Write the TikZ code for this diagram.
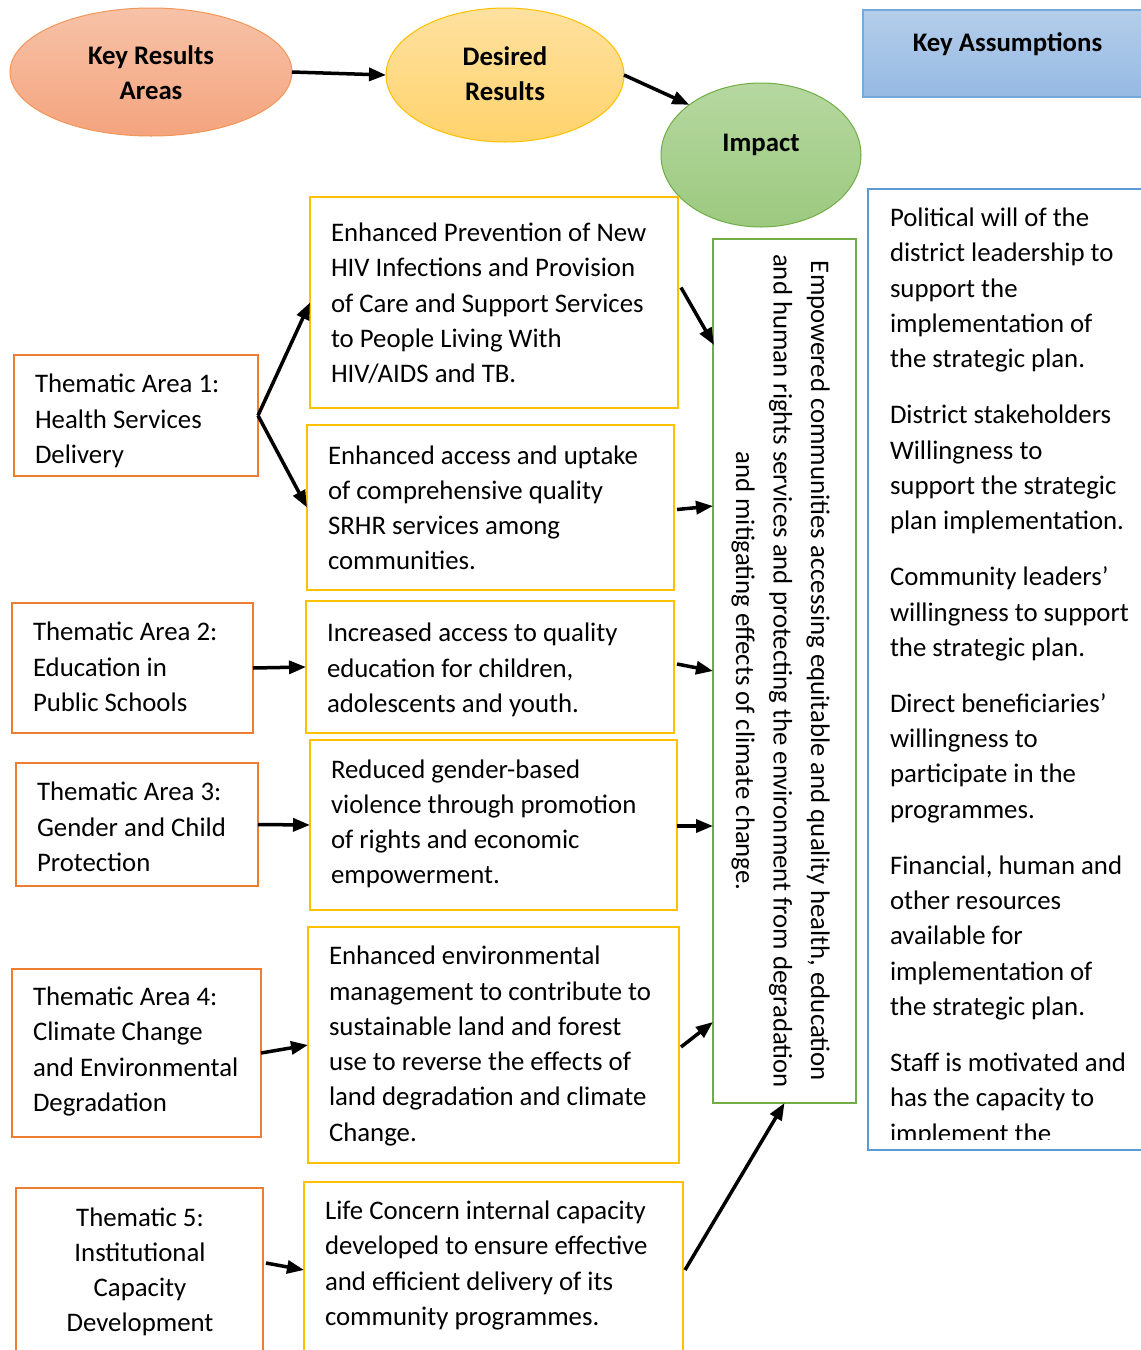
\documentclass[tikz,border=0pt]{standalone}
\usepackage{fontspec}
\setmainfont{Carlito}
\usetikzlibrary{shapes.geometric,arrows.meta,calc}
\definecolor{orB}{HTML}{ED7D31}
\definecolor{yeB}{HTML}{FFC000}
\definecolor{grB}{HTML}{70AD47}
\definecolor{blB}{HTML}{5B9BD5}
\definecolor{orT}{HTML}{F7C2A8}
\definecolor{orD}{HTML}{F4A47E}
\definecolor{yeT}{HTML}{FFE1A0}
\definecolor{yeD}{HTML}{FFD36C}
\definecolor{grT}{HTML}{B6D8A0}
\definecolor{grD}{HTML}{9CC97F}
\definecolor{blT}{HTML}{B4CDEA}
\definecolor{blD}{HTML}{96BAE3}
\begin{document}
\begin{tikzpicture}[x=1pt,y=-1pt,
  every node/.style={inner sep=0pt, outer sep=0pt},
  body/.style={font=\fontsize{26.8}{35.3}\selectfont, align=left,
     execute at begin node=\strut, execute at end node=\strut},
  head/.style={font=\fontsize{26.8}{35}\selectfont\bfseries, align=center},
  thbox/.style={draw=orB, line width=2.5pt, rectangle},
  resbox/.style={draw=yeB, line width=2.5pt, rectangle},
  conn/.style={line width=3.5pt, -{Triangle[length=17pt,width=13pt]}},
  ell/.style={ellipse, line width=1pt}
]
\clip (0,0) rectangle (1141,1350);
\fill[white] (0,0) rectangle (1141,1350);

% top ellipses
\node[ell, draw=orB!80, top color=orT, bottom color=orD,
  minimum width=282pt, minimum height=128pt] (KRA) at (151,72) {};
\node[head] (krat) at ($(KRA.center)+(0,0.5)$) {Key Results\\Areas};
\node[ell, draw=yeB, top color=yeT, bottom color=yeD,
  minimum width=238pt, minimum height=134pt] (DR) at (505,75) {};
\node[head] (drt) at ($(DR.center)+(0,-1.5)$) {Desired\\Results};
\node[ell, draw=grB, top color=grT, bottom color=grD,
  minimum width=200pt, minimum height=144pt] (IMP) at (761,155) {};
\node[head] (impt) at ($(IMP.center)+(0,-10)$) {Impact};
\draw[conn] (KRA.east) -- (DR.west);
\draw[conn] (DR.east) -- (IMP.145);

% key assumptions header
\node[rectangle, draw=blB!85, line width=1.5pt, top color=blT, bottom color=blD,
  minimum width=307pt, minimum height=87pt] (KA) at (1016.5,53.5) {};
\node[head] (kat) at ($(KA.north west)+(144.5,34)$) {Key Assumptions};

% assumptions box
\node[rectangle, draw=blB, line width=2.5pt, minimum width=302pt, minimum height=961pt] (AS) at (1019,669.5) {};
\begin{scope}
\clip (869,190) rectangle (1141,1139);
\node[body, anchor=north west] (ast) at ($(AS.north west)+(22,19)$) {Political will of the\\district leadership to\\support the\\implementation of\\the strategic plan.\\[20.7pt]
District stakeholders\\Willingness to\\support the strategic\\plan implementation.\\[20.7pt]
Community leaders’\\willingness to support\\the strategic plan.\\[20.7pt]
Direct beneficiaries’\\willingness to\\participate in the\\programmes.\\[20.7pt]
Financial, human and\\other resources\\available for\\implementation of\\the strategic plan.\\[20.7pt]
Staff is motivated and\\has the capacity to\\implement the\\strategic plan.};
\end{scope}

% impact box
\node[rectangle, draw=grB, line width=2.5pt, minimum width=143pt, minimum height=864pt] (G) at (784.5,671) {};
\node[font=\fontsize{26.8}{37.5}\selectfont, align=center, rotate=-90] (gt) at ($(G.center)+(-4,0)$)
 {Empowered communities accessing equitable and quality health, education\\and human rights services and protecting the environment from degradation\\and mitigating effects of climate change.};

% thematic boxes
\node[thbox, minimum width=244pt, minimum height=121pt] (T1) at (136,415.5) {};
\node[body, anchor=west] (t1) at ($(T1.west)+(21,8.5)$) {Thematic Area 1:\\Health Services\\Delivery};
\node[thbox, minimum width=241pt, minimum height=130pt] (T2) at (132.5,668) {};
\node[body, anchor=west] (t2) at ($(T2.west)+(21,4)$) {Thematic Area 2:\\Education in\\Public Schools};
\node[thbox, minimum width=242pt, minimum height=123pt] (T3) at (137,824.5) {};
\node[body, anchor=west] (t3) at ($(T3.west)+(21,7.5)$) {Thematic Area 3:\\Gender and Child\\Protection};
\node[thbox, minimum width=249pt, minimum height=168pt] (T4) at (136.5,1053) {};
\node[body, anchor=west] (t4) at ($(T4.west)+(21,1.5)$) {Thematic Area 4:\\Climate Change\\and Environmental\\Degradation};
\node[thbox, minimum width=247pt, minimum height=182pt] (T5) at (139.5,1279) {};
\node[body, align=center] (t5) at ($(T5.center)+(0.5,-4)$) {Thematic 5:\\Institutional\\Capacity\\Development};

% result boxes
\node[resbox, minimum width=368pt, minimum height=211pt] (A) at (494,302.5) {};
\node[body, anchor=west] (at) at ($(A.west)+(21,5.5)$) {Enhanced Prevention of New\\HIV Infections and Provision\\of Care and Support Services\\to People Living With\\HIV/AIDS and TB.};
\node[resbox, minimum width=367pt, minimum height=165pt] (B) at (490.5,507.5) {};
\node[body, anchor=west] (bt) at ($(B.west)+(21,5.5)$) {Enhanced access and uptake\\of comprehensive quality\\SRHR services among\\communities.};
\node[resbox, minimum width=368pt, minimum height=132pt] (C) at (490,667) {};
\node[body, anchor=west] (ct) at ($(C.west)+(21,6)$) {Increased access to quality\\education for children,\\adolescents and youth.};
\node[resbox, minimum width=367pt, minimum height=170pt] (D) at (493.5,825) {};
\node[body, anchor=west] (dt) at ($(D.west)+(21,2)$) {Reduced gender-based\\violence through promotion\\of rights and economic\\empowerment.};
\node[resbox, minimum width=371pt, minimum height=236pt] (E) at (493.5,1045) {};
\node[body, anchor=west] (et) at ($(E.west)+(21,4)$) {Enhanced environmental\\management to contribute to\\sustainable land and forest\\use to reverse the effects of\\land degradation and climate\\Change.};
\node[resbox, minimum width=379pt, minimum height=188pt] (F) at (493.5,1276) {};
\node[body, anchor=west] (ft) at ($(F.west)+(21,-7.5)$) {Life Concern internal capacity\\developed to ensure effective\\and efficient delivery of its\\community programmes.};

% connectors thematic -> results
\draw[conn] (T1.east) -- (A.west);
\draw[conn] (T1.east) -- (B.west);
\draw[conn] (T2.east) -- (C.west);
\draw[conn] (T3.east) -- (D.west);
\draw[conn] (T4.east) -- (E.west);
\draw[conn] ($(T5.east)+(3,-16)$) -- ($(F.west)+(0,-6)$);

% connectors results -> impact box
\draw[conn] ($(A.east)+(3,-15)$) -- ($(G.north west)+(1,106)$);
\draw[conn] ($(B.east)+(3,2)$) -- ($(G.north west)+(0,267)$);
\draw[conn] ($(C.east)+(3,-3)$) -- (G.west);
\draw[conn] ($(D.east)+(0,1)$) -- ($(G.north west)+(0,587)$);
\draw[conn] ($(E.east)+(2,2)$) -- ($(G.north west)+(0,783)$);
\draw[conn] ($(F.east)+(2,-6)$) -- (G.south);
\end{tikzpicture}
\end{document}
